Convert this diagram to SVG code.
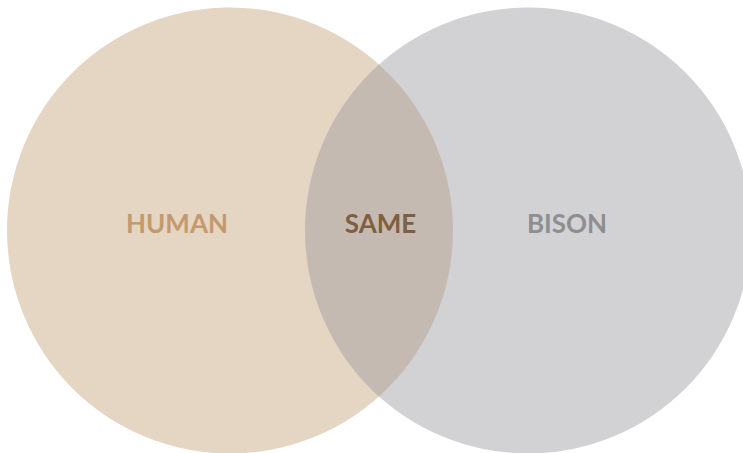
<svg xmlns="http://www.w3.org/2000/svg" width="743" height="453" viewBox="0 0 743 453">
<style>
.lbl{font-family:Lato,"Open Sans","DejaVu Sans",sans-serif;font-size:26px;font-weight:700;text-anchor:middle}
</style>
<defs>
<clipPath id="clipL"><circle cx="230" cy="230.5" r="223"/></clipPath>
</defs>
<rect width="743" height="453" fill="#ffffff"/>
<g id="human"><circle cx="230" cy="230.5" r="223" fill="#E5D5C3"/></g>
<g id="bison"><circle cx="528" cy="230.5" r="223" fill="#D2D2D4"/></g>
<g id="same"><circle cx="528" cy="230.5" r="223" fill="#C4BAB2" clip-path="url(#clipL)"/></g>
<g id="labels">
<text class="lbl" x="177" y="233" fill="#C49A6C">HUMAN</text>
<text class="lbl" x="380.5" y="233" fill="#7F5F3F">SAME</text>
<text class="lbl" x="567" y="233" fill="#8E8E90">BISON</text>
</g>
<g id="connectors"/>
</svg>
